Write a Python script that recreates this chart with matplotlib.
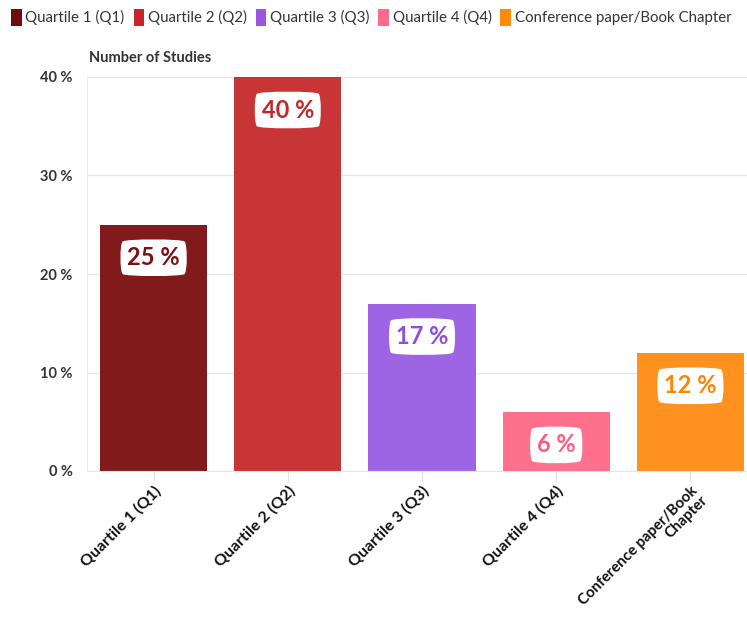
import matplotlib.pyplot as plt
from matplotlib.patches import Patch

plt.rcParams['font.family'] = ['Lato', 'DejaVu Sans']

categories = ['Quartile 1 (Q1)', 'Quartile 2 (Q2)', 'Quartile 3 (Q3)',
              'Quartile 4 (Q4)', 'Conference paper/Book Chapter']
tick_labels = ['Quartile 1 (Q1)', 'Quartile 2 (Q2)', 'Quartile 3 (Q3)',
               'Quartile 4 (Q4)', 'Conference paper/Book\nChapter']
shares = [25, 40, 17, 6, 12]
bar_colors = ['#801a1b', '#c83537', '#9d65e4', '#ff708c', '#ff921e']
legend_colors = ['#720b0b', '#c8242b', '#9b55e0', '#ff6b8a', '#ff8a0a']
label_colors = ['#7a1214', '#c0282c', '#8e4fdc', '#ff5c80', '#ff8400']

fig = plt.figure(figsize=(7.47, 6.21), dpi=100)
ax = fig.add_axes([86.5 / 747, 150 / 621, 671 / 747, 394 / 621])

x = range(len(categories))
bars = ax.bar(x, shares, width=0.8, color=bar_colors, zorder=2)

ax.set_xlim(-0.5, len(categories) - 0.5)
ax.set_ylim(0, 40)
ax.set_yticks([0, 10, 20, 30, 40])
ax.set_yticklabels([f'{v} %' for v in [0, 10, 20, 30, 40]],
                   fontsize=10.5, fontweight='bold', color='#333333')
ax.yaxis.grid(True, color='#e6e6e6', linewidth=1)
ax.set_axisbelow(True)

ax.set_xticks(list(x))
ax.set_xticklabels(tick_labels, rotation=45, ha='right', rotation_mode='anchor',
                   fontsize=11.5, fontweight='bold', color='#111111',
                   linespacing=1.0)
# the two-line label needs a little less room at the bottom edge
ax.get_xticklabels()[-1].set_fontsize(10.8)
ax.tick_params(axis='x', length=8, color='#e0e0e0', pad=1)
ax.tick_params(axis='y', length=0, pad=10)

for side in ['top', 'right']:
    ax.spines[side].set_visible(False)
ax.spines['left'].set_color('#ececec')
ax.spines['bottom'].set_color('#e6e6e6')

# white tag with the share printed near the top of each bar
for bar, val, col in zip(bars, shares, label_colors):
    ax.annotate(f'{val} %', xy=(bar.get_x() + bar.get_width() / 2, val),
                xytext=(0, -33), textcoords='offset pixels',
                ha='center', va='center', fontsize=17, fontweight='bold',
                color=col, zorder=3,
                bbox=dict(boxstyle='round4,pad=0.32,rounding_size=0.12',
                          fc='white', ec='none'))

ax.text(0.003, 1.03, 'Number of Studies', transform=ax.transAxes,
        fontsize=10.5, fontweight='bold', color='#333333', ha='left', va='bottom')

handles = [Patch(facecolor=c, edgecolor='none') for c in legend_colors]
fig.legend(handles, categories, loc='center', bbox_to_anchor=(0.497, 0.972),
           ncol=5, frameon=False, fontsize=10.8, handlelength=0.7, handleheight=1.3,
           handletextpad=0.25, columnspacing=0.6, labelcolor='#333333')

fig.savefig('out.png', dpi=100)
